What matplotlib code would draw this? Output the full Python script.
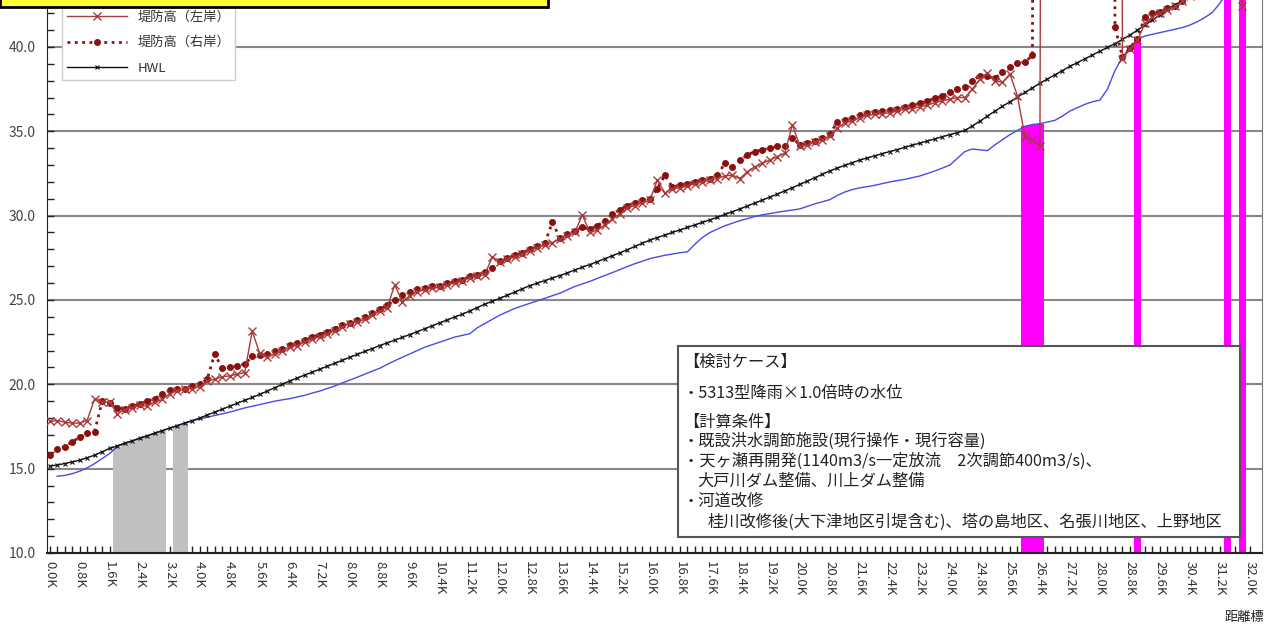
import numpy as np
import matplotlib
matplotlib.use('Agg')
import matplotlib.pyplot as plt
from matplotlib.patches import Rectangle

plt.rcParams['font.family'] = ['Noto Sans CJK JP', 'DejaVu Sans']

# 距離標 (km), 0.2K刻み
km = np.round(np.arange(0, 32.01, 0.2), 1)
tick_km = np.round(np.arange(0, 32.01, 0.8), 1)
tick_labels = ['%.1fK' % v for v in tick_km]

OFF = 200.0  # 図の上端より外

# HWL
hwl = [15.15, 15.22, 15.3, 15.4, 15.5, 15.65, 15.8, 16.0, 16.2, 16.35,
       16.5, 16.65, 16.8, 16.95, 17.1, 17.25, 17.4, 17.55, 17.7, 17.85,
       18.0, 18.18, 18.35, 18.52, 18.7, 18.88, 19.05, 19.22, 19.4, 19.6,
       19.8, 20.0, 20.2, 20.37, 20.55, 20.72, 20.9, 21.07, 21.25, 21.42,
       21.6, 21.77, 21.95, 22.12, 22.3, 22.46, 22.62, 22.78, 22.95, 23.12,
       23.3, 23.47, 23.65, 23.82, 24.0, 24.15, 24.35, 24.55, 24.75, 24.92,
       25.1, 25.28, 25.47, 25.66, 25.85, 26.0, 26.15, 26.3, 26.45, 26.6,
       26.78, 26.94, 27.1, 27.27, 27.45, 27.62, 27.8, 27.98, 28.17, 28.36,
       28.55, 28.7, 28.85, 29.0, 29.15, 29.3, 29.45, 29.6, 29.75, 29.9,
       30.07, 30.23, 30.4, 30.57, 30.75, 30.92, 31.1, 31.28, 31.47, 31.66,
       31.85, 32.05, 32.25, 32.45, 32.65, 32.82, 32.98, 33.14, 33.3, 33.42,
       33.55, 33.68, 33.8, 33.92, 34.05, 34.18, 34.3, 34.42, 34.55, 34.68,
       34.8, 34.92, 35.05, 35.32, 35.6, 35.9, 36.2, 36.48, 36.75, 37.03,
       37.3, 37.58, 37.85, 38.1, 38.35, 38.6, 38.85, 39.07, 39.3, 39.52,
       39.75, 39.97, 40.2, 40.45, 40.7, 41.0, 41.3, 41.6, 41.9, 42.2,
       42.5, 42.75, 43.0, 43.25, 43.5, 43.75, 44.0, 44.25, 44.5, 44.75,
       45.0]

# 計算水位
wl = [np.nan, 14.55, 14.6, 14.7, 14.85, 15.05, 15.3, 15.6, 15.9, 16.3,
      16.5, 16.65, 16.8, 16.95, 17.1, 17.25, 17.4, 17.55, 17.7, 17.82,
      17.95, 18.05, 18.15, 18.25, 18.35, 18.48, 18.6, 18.7, 18.8, 18.9,
      19.0, 19.08, 19.15, 19.25, 19.35, 19.48, 19.6, 19.75, 19.9, 20.08,
      20.25, 20.42, 20.6, 20.78, 20.95, 21.18, 21.4, 21.6, 21.8, 22.0,
      22.2, 22.35, 22.5, 22.65, 22.8, 22.9, 23.0, 23.35, 23.6, 23.85,
      24.1, 24.3, 24.5, 24.65, 24.8, 24.95, 25.1, 25.25, 25.4, 25.6,
      25.8, 25.95, 26.1, 26.28, 26.45, 26.62, 26.8, 26.98, 27.15, 27.3,
      27.45, 27.55, 27.65, 27.72, 27.8, 27.85, 28.3, 28.7, 29.0, 29.2,
      29.4, 29.55, 29.7, 29.82, 29.95, 30.05, 30.12, 30.2, 30.27, 30.33,
      30.4, 30.55, 30.7, 30.82, 30.95, 31.2, 31.4, 31.55, 31.65, 31.72,
      31.8, 31.9, 32.0, 32.08, 32.15, 32.25, 32.35, 32.5, 32.65, 32.82,
      33.0, 33.4, 33.8, 33.95, 33.9, 33.85, 34.2, 34.5, 34.8, 35.05,
      35.3, 35.4, 35.45, 35.55, 35.65, 35.9, 36.2, 36.4, 36.6, 36.75,
      36.85, 37.5, 38.6, 39.4, 40.0, 40.45, 40.65, 40.75, 40.85, 40.95,
      41.05, 41.15, 41.3, 41.5, 41.75, 42.05, 42.6, 43.3, 43.6, 44.0,
      44.5]

# 堤防高（左岸）
lb = [17.8, 17.85, 17.75, 17.7, 17.7, 17.85, 19.15, 18.95, 18.95, 18.25,
      18.5, 18.6, 18.75, 18.7, 18.95, 19.1, 19.45, 19.6, 19.7, 19.75,
      19.85, 20.2, 20.3, 20.45, 20.5, 20.6, 20.7, 23.15, 21.85, 21.6,
      21.8, 21.95, 22.2, 22.3, 22.5, 22.7, 22.8, 23.0, 23.15, 23.4,
      23.6, 23.7, 23.85, 24.1, 24.35, 24.55, 25.9, 24.9, 25.25, 25.5,
      25.6, 25.7, 25.75, 25.9, 26.0, 26.15, 26.3, 26.4, 26.5, 27.55,
      27.25, 27.4, 27.55, 27.7, 27.9, 28.1, 28.25, 28.4, 28.6, 28.8,
      29.0, 30.05, 29.0, 29.15, 29.45, 29.8, 30.1, 30.45, 30.6, 30.75,
      30.9, 32.1, 31.35, 31.6, 31.65, 31.75, 31.9, 32.0, 32.1, 32.2,
      32.35, 32.4, 32.2, 32.6, 32.9, 33.1, 33.3, 33.5, 33.7, 35.4,
      34.1, 34.2, 34.35, 34.5, 34.7, 35.2, 35.5, 35.6, 35.8, 35.95,
      36.0, 36.05, 36.1, 36.2, 36.3, 36.35, 36.45, 36.55, 36.7, 36.8,
      36.9, 37.0, 37.0, 37.5, 38.1, 38.45, 38.0, 37.9, 38.4, 37.1,
      34.7, 34.5, 34.1, OFF, OFF, OFF, OFF, OFF, OFF, OFF,
      OFF, OFF, OFF, 39.3, 39.9, 40.4, 41.4, 41.8, 42.0, 42.2,
      42.4, 42.7, 43.0, 43.3, 43.6, 43.9, 44.2, 44.5, 44.8, 42.4,
      45.0]

# 堤防高（右岸）
rb = [15.8, 16.15, 16.3, 16.6, 16.85, 17.1, 17.2, 19.0, 18.9, 18.6,
      18.55, 18.7, 18.85, 19.0, 19.15, 19.45, 19.65, 19.7, 19.75, 19.9,
      20.0, 20.3, 21.8, 20.95, 21.0, 21.1, 21.2, 21.65, 21.75, 21.8,
      22.0, 22.1, 22.35, 22.45, 22.6, 22.8, 22.95, 23.1, 23.3, 23.5,
      23.65, 23.8, 24.0, 24.2, 24.45, 24.7, 25.0, 25.3, 25.5, 25.65,
      25.7, 25.8, 25.85, 26.0, 26.1, 26.2, 26.4, 26.5, 26.65, 26.9,
      27.3, 27.5, 27.65, 27.8, 28.0, 28.2, 28.35, 29.6, 28.7, 28.9,
      29.1, 29.3, 29.2, 29.4, 29.7, 30.1, 30.35, 30.6, 30.75, 30.9,
      31.0, 31.6, 32.4, 31.7, 31.8, 31.9, 32.0, 32.1, 32.2, 32.4,
      33.1, 32.9, 33.3, 33.6, 33.8, 33.9, 34.0, 34.1, 34.1, 34.6,
      34.2, 34.3, 34.45, 34.6, 34.85, 35.55, 35.65, 35.8, 35.95, 36.1,
      36.15, 36.2, 36.25, 36.35, 36.45, 36.55, 36.65, 36.8, 36.95, 37.1,
      37.3, 37.5, 37.6, 38.0, 38.3, 38.25, 38.15, 38.5, 38.8, 39.05,
      39.1, 39.5, OFF, OFF, OFF, OFF, OFF, OFF, OFF, OFF,
      OFF, OFF, 41.2, 39.4, 39.95, 40.5, 41.8, 42.0, 42.1, 42.3,
      42.4, 42.75, 43.1, 43.4, 43.7, 44.0, 44.3, 44.6, 44.9, 45.2,
      45.5]

# 区間の棒 (灰色・マゼンタ)
gray_km = [1.8, 2.0, 2.2, 2.4, 2.6, 2.8, 3.0, 3.4, 3.6]
gray_val = [16.3, 16.5, 16.65, 16.8, 16.95, 17.1, 17.25, 17.55, 17.7]
mag_km = [26.0, 26.2, 26.4, 29.0, 31.4, 31.8]
mag_val = [35.3, 35.4, 35.45, 40.55, 45.0, 45.0]

fig = plt.figure(figsize=(12.75, 6.31), dpi=100)
ax = fig.add_axes([47 / 1275, 78 / 631, 1215 / 1275, 565.6 / 631])

ax.bar(gray_km, np.array(gray_val) - 10, bottom=10, width=0.2,
       color='#c0c0c0', zorder=2)
ax.bar(mag_km, np.array(mag_val) - 10, bottom=10, width=0.2,
       color='#ff00ff', zorder=2)

# 計算水位 (凡例の該当行は図の上端で切れているため凡例には出さない)
ax.plot(km, wl, color='#4a4ae6', lw=1.0, zorder=3)
ax.plot(km, lb, color='#a83a3a', lw=1.0, marker='x', ms=6, mew=1.0,
        zorder=5, label='堤防高（左岸）')
ax.plot(km, rb, color='#8b1010', lw=2.0, ls=':', marker='o', ms=4,
        zorder=4, label='堤防高（右岸）')
ax.plot(km, hwl, color='#111111', lw=1.0, marker='x', ms=3, mew=0.8,
        zorder=4, label='HWL')

ax.set_xlim(-0.07, 32.32)
ax.set_ylim(10, 43.53)
ax.set_xticks(tick_km)
ax.set_xticklabels(tick_labels, rotation=-90, fontsize=9.5, color='#333333')
ax.set_xticks(km, minor=True)
ax.set_yticks([10, 15, 20, 25, 30, 35, 40])
ax.set_yticklabels(['%.1f' % v for v in [10, 15, 20, 25, 30, 35, 40]],
                   fontsize=10, color='#444444')
ax.set_yticks(np.arange(10, 44, 1), minor=True)
ax.tick_params(axis='both', which='both', direction='in', length=5,
               width=1.0, color='#222222')
ax.tick_params(axis='x', pad=6)
ax.tick_params(axis='y', pad=8)
ax.grid(axis='y', which='major', color='#888888', lw=1.5)
ax.set_axisbelow(True)
ax.spines['top'].set_visible(False)
ax.spines['left'].set_color('#222222')
ax.spines['bottom'].set_color('#222222')
ax.spines['bottom'].set_linewidth(1.5)
ax.spines['right'].set_color('#777777')

fig.text(1264 / 1275, 1 - 617 / 631, '距離標', fontsize=9.5, ha='right',
         va='center', color='#222222')

# 凡例の枠 (上は図の外まで続く)
fig.patches.append(Rectangle((62 / 1275, 1 - 80 / 631), 173 / 1275,
                             0.2, transform=fig.transFigure,
                             facecolor='white', edgecolor='#cccccc', lw=1,
                             zorder=4))
leg = fig.legend(loc='lower left', bbox_to_anchor=(62 / 1275, 1 - 80 / 631),
                 fontsize=9.5, handlelength=4.5, labelspacing=0.95,
                 frameon=False, borderaxespad=0)
for t in leg.get_texts():
    t.set_color('#333333')

# 上端の黄色い枠
fig.patches.append(Rectangle((0, 1 - 7 / 631), 548 / 1275, 0.05,
                             transform=fig.transFigure, facecolor='#ffff33',
                             edgecolor='black', lw=2, zorder=6))

# 検討条件の枠
fig.patches.append(Rectangle((678 / 1275, 1 - 537 / 631), 562 / 1275,
                             191 / 631, transform=fig.transFigure,
                             facecolor='white', edgecolor='#555555', lw=1.5,
                             zorder=6))
lines = [
    (683, 362, '【検討ケース】'),
    (683, 393, '・5313型降雨×1.0倍時の水位'),
    (683, 422, '【計算条件】'),
    (683, 441, '・既設洪水調節施設(現行操作・現行容量)'),
    (683, 461, '・天ヶ瀬再開発(1140m3/s一定放流　2次調節400m3/s)、'),
    (697, 481, '大戸川ダム整備、川上ダム整備'),
    (683, 501, '・河道改修'),
    (708, 522, '桂川改修後(大下津地区引堤含む)、塔の島地区、名張川地区、上野地区'),
]
for x, y, s in lines:
    fig.text(x / 1275, 1 - y / 631, s, fontsize=11.7, ha='left',
             va='center', color='#222222', zorder=7)

fig.savefig('out.png', dpi=100)
